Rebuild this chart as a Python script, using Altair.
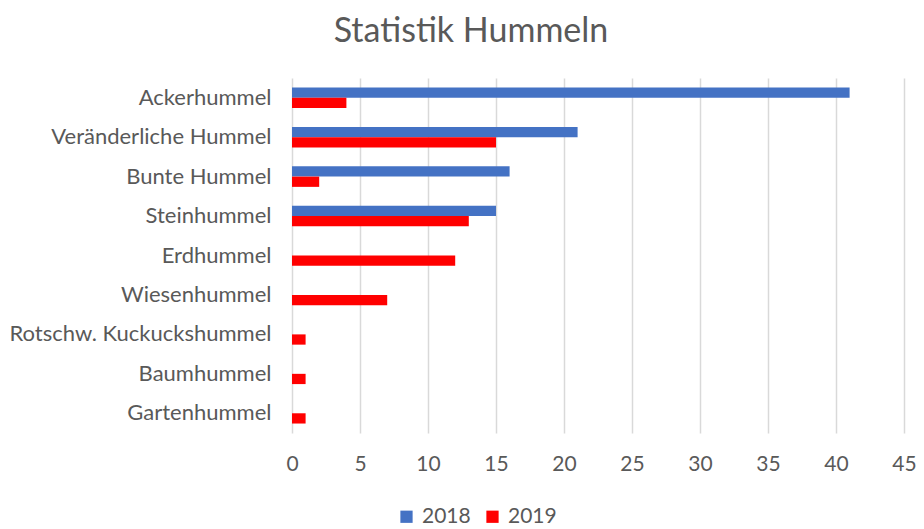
import altair as alt
import pandas as pd

categories = ["Ackerhummel", "Veränderliche Hummel", "Bunte Hummel", "Steinhummel",
              "Erdhummel", "Wiesenhummel", "Rotschw. Kuckuckshummel", "Baumhummel", "Gartenhummel"]
v2018 = [41, 21, 16, 15, 0, 0, 0, 0, 0]
v2019 = [4, 15, 2, 13, 12, 7, 1, 1, 1]
years = ["2018", "2019"]
colors = ["#4472C4", "#FF0000"]
x_ticks = [0, 5, 10, 15, 20, 25, 30, 35, 40, 45]

rows = []
for c, a, b in zip(categories, v2018, v2019):
    rows.append({"Art": c, "Jahr": "2018", "Anzahl": a})
    rows.append({"Art": c, "Jahr": "2019", "Anzahl": b})
df = pd.DataFrame(rows)

FONT = "Lato"
GREY = "#595959"

chart = alt.Chart(df).mark_bar().encode(
    y=alt.Y("Art:N", sort=categories, title=None,
            scale=alt.Scale(paddingInner=0.48, paddingOuter=0.24),
            axis=alt.Axis(domain=False, ticks=False, labelPadding=21, labelFontSize=22,
                          labelColor=GREY, labelFont=FONT, grid=False, labelLimit=400)),
    yOffset=alt.YOffset("Jahr:N", sort=years, scale=alt.Scale(paddingInner=0, paddingOuter=0)),
    x=alt.X("Anzahl:Q", title=None,
            scale=alt.Scale(domain=[0, 45], nice=False),
            axis=alt.Axis(values=x_ticks, domain=False, ticks=False, labelPadding=20,
                          labelFontSize=21, labelColor=GREY, labelFont=FONT, labelFlush=False,
                          gridColor="#D9D9D9", gridWidth=1.5)),
    color=alt.Color("Jahr:N", sort=years, scale=alt.Scale(domain=years, range=colors),
                    legend=alt.Legend(title=None, orient="none", direction="horizontal",
                                      legendX=104, legendY=428, symbolType="square",
                                      symbolSize=150, symbolStrokeWidth=0, labelFontSize=21,
                                      labelColor=GREY, labelFont=FONT, columnPadding=11,
                                      labelOffset=5, symbolOpacity=1)),
).properties(
    width=612, height=355,
    padding={"left": 284, "top": 70, "right": 12, "bottom": 96},
    autosize=alt.AutoSizeParams(type="none"),
    title=alt.TitleParams("Statistik Hummeln", fontSize=34, font=FONT, color=GREY,
                          fontWeight="normal", anchor="middle", dx=-127, offset=29),
).configure_view(stroke=None)

chart.save("out.html", embed_options={"renderer": "svg", "actions": False})
